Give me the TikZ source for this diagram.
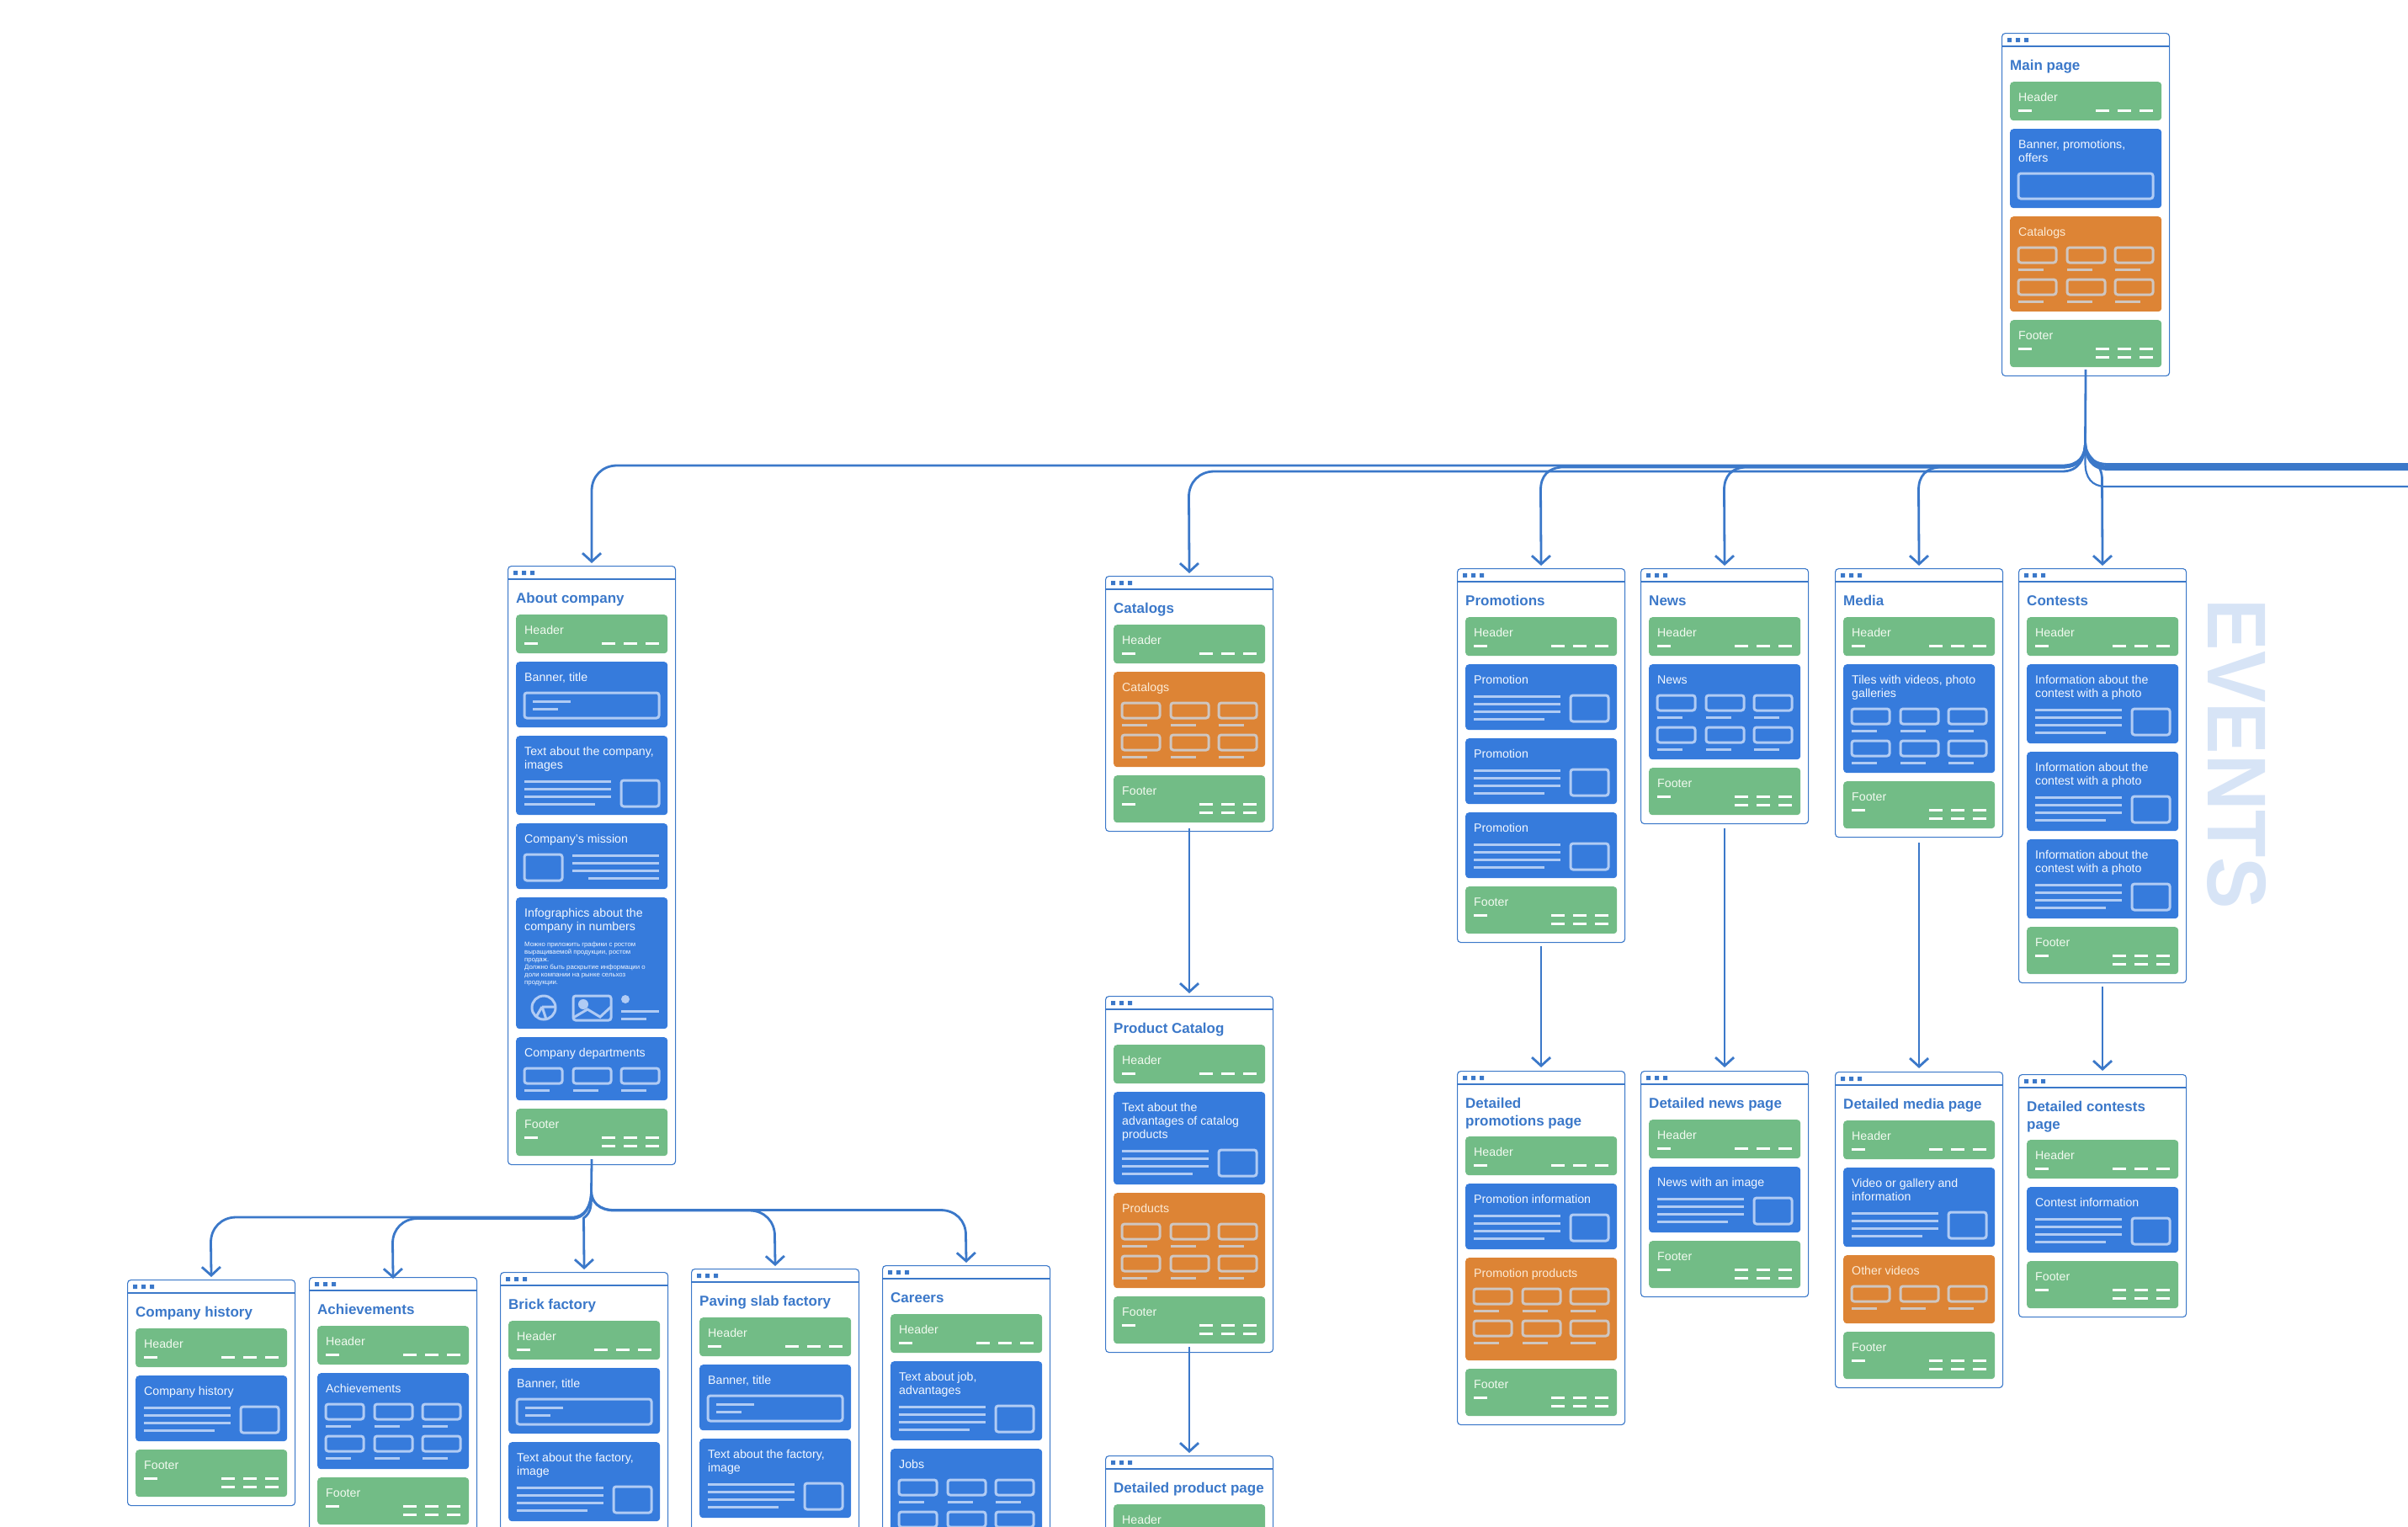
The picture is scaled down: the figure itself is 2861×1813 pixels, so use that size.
\documentclass[tikz,border=0pt]{standalone}
\usepackage{fontspec}
\setmainfont{Liberation Sans}
\usetikzlibrary{arrows.meta,calc}
\definecolor{gr}{HTML}{72BC86}
\definecolor{bl}{HTML}{367BDC}
\definecolor{or}{HTML}{DD8435}
\definecolor{inkbl}{HTML}{B0CBF4}
\definecolor{inkor}{HTML}{CFC6C0}
\definecolor{txtgr}{HTML}{F2FAF0}
\definecolor{txtbl}{HTML}{F2F7FF}
\definecolor{txtor}{HTML}{FCEBD6}
\definecolor{edge}{HTML}{3B78C9}
\definecolor{wm}{HTML}{D7E4F6}
\newcount\PX \newcount\PY \newcount\PT \newcount\BN
\def\inkc{inkbl}
\tikzset{
  pageframe/.style={draw=edge,line width=1.1pt,rounded corners=4pt,minimum width=199pt,inner sep=0pt,anchor=north west},
  pagebar/.style={draw=edge,line width=1.1pt},
  blockbox/.style={rounded corners=4pt,minimum width=180pt,inner sep=0pt,anchor=north west},
  blocktxt/.style={inner sep=0pt,anchor=north west,align=left,font=\fontsize{14.2}{16}\selectfont},
  smalltxt/.style={inner sep=0pt,anchor=north west,align=left,text=txtbl,font=\fontsize{7.8}{9}\selectfont},
  pagetitle/.style={inner sep=0pt,anchor=north west,align=left,text=edge,font=\fontsize{17}{21.5}\selectfont\bfseries},
  inkline/.style={line width=3pt,draw=\inkc},
  inkround/.style={line width=3pt,draw=\inkc,rounded corners=3pt},
  dashline/.style={line width=3pt,white},
  conn/.style={draw=edge,line width=2.8pt},
  arrowconn/.style={conn,-{Straight Barb[length=10pt,width=22pt,line width=2.8pt]}},
}
% one block of a page: colour, height, title
\newcommand\Blk[3]{\global\advance\BN by 1
  \node[blockbox,fill=#1,minimum height=#2pt] (b\the\BN) at (0,0) {};
  \node[blocktxt,text=txt#1] (t\the\BN) at (10,12) {\rule{0pt}{11pt}#3};}
\newcommand\PgBegin[4]{% x, top, lines of title, title
  \PX=#1 \PT=#2 \PY=#2 \advance\PY by 58
  \ifnum#3=2 \advance\PY by 20 \fi
  \global\advance\BN by 1
  \node[pagetitle] (pt\the\BN) at (#1+10,#2+31) {\rule{0pt}{13pt}#4};}
\newcommand\PgEnd[2][0]{% extra height, name
  \advance\PY by #1
  \begin{scope}[shift={(\the\PX,\the\PT)}]
    \pgfmathsetmacro\PgH{\the\PY-\the\PT}
    \node[pageframe,minimum height=\PgH pt] (#2) at (0,0) {};
    \draw[pagebar] (0,16) -- (199,16);
    \fill[edge] (7,6) rectangle (12,11) (17,6) rectangle (22,11) (27,6) rectangle (32,11);
  \end{scope}}
\newcommand\InScope[1]{\begin{scope}[shift={(\the\numexpr\PX+10\relax,\the\PY)}]#1\end{scope}}
\newcommand\Dashes[1]{\draw[dashline] (102,#1)--(118,#1) (128,#1)--(144,#1) (154,#1)--(170,#1);}
\newcommand\Hdr{\InScope{\Blk{gr}{46}{Header}\draw[dashline] (10,34)--(26,34);\Dashes{34}}\advance\PY by 56 }
\newcommand\Ftr{\InScope{\Blk{gr}{56}{Footer}\draw[dashline] (10,34)--(26,34);\Dashes{34}\Dashes{44}}\advance\PY by 66 }
\newcommand\Ban[1]{\def\inkc{inkbl}\InScope{\Blk{bl}{78}{#1}
  \draw[inkround] (10,37) rectangle (170,67);
  \draw[inkline] (20,47)--(65,47) (20,56)--(50,56);}\advance\PY by 88 }
\newcommand\BanWide[1]{\def\inkc{inkbl}\InScope{\Blk{bl}{94}{#1}
  \draw[inkround] (10,53) rectangle (170,83);}\advance\PY by 104 }
\newcommand\Txt[2]{% title, lines of title
  \def\inkc{inkbl}\pgfmathtruncatemacro\Off{16*(#2-1)}\pgfmathtruncatemacro\Ht{78+\Off}
  \InScope{\Blk{bl}{\Ht}{#1}
  \draw[inkline] (10,38+\Off)--(113,38+\Off) (10,47+\Off)--(113,47+\Off) (10,56+\Off)--(113,56+\Off) (10,65+\Off)--(94,65+\Off);
  \draw[inkround] (125,37+\Off) rectangle (170,68+\Off);}
  \advance\PY by \Ht \advance\PY by 10 }
\newcommand\Mission[1]{\def\inkc{inkbl}\InScope{\Blk{bl}{78}{#1}
  \draw[inkline] (67,38)--(170,38) (67,47)--(170,47) (67,56)--(170,56) (86,65)--(170,65);
  \draw[inkround] (10,37) rectangle (55,68);}\advance\PY by 88 }
\newcommand\Cell[2]{\draw[inkround] (#1,#2) rectangle (#1+45,#2+18);\draw[inkline] (#1,#2+26)--(#1+30,#2+26);}
\newcommand\Grid[5]{% colour, title, lines of title, rows, height
  \def\inkc{ink#1}\pgfmathtruncatemacro\Off{16*(#3-1)}
  \InScope{\Blk{#1}{#5}{#2}
  \Cell{10}{37+\Off}\Cell{68}{37+\Off}\Cell{125}{37+\Off}
  \ifnum#4=2 \Cell{10}{75+\Off}\Cell{68}{75+\Off}\Cell{125}{75+\Off}\fi}
  \advance\PY by #5 \advance\PY by 10 }
\newcommand\Info[2]{\def\inkc{inkbl}\InScope{\Blk{bl}{156}{#1}
  \global\advance\BN by 1
  \node[smalltxt] (s\the\BN) at (10,51) {\rule{0pt}{7pt}#2};
  \draw[inkline] (33,131) circle (14);
  \draw[inkline] (31,130)--(47,130) (31,130)--(24,142) (31,130)--(36,145);
  \draw[inkround] (68,117) rectangle (113,146);
  \fill[\inkc] (80,127) circle (6) (130,121) circle (5);
  \draw[inkline] (68,143)--(85,133)--(100,142)--(113,130);
  \draw[inkline] (125,135)--(170,135) (125,144)--(155,144);}\advance\PY by 166 }
\begin{document}
\begin{tikzpicture}[x=1pt,y=-1pt]
\useasboundingbox (0,0) rectangle (2861,1813);
\clip (0,0) rectangle (2861,1813);

\node[inner sep=0pt,rotate=-90,text=wm,font=\fontsize{99}{99}\selectfont\bfseries] (events) at (2657.5,896) {\scalebox{.93}[1]{EVENTS}};

\PgBegin{2378}{39}{1}{Main page}\Hdr\BanWide{Banner, promotions,\\offers}\Grid{or}{Catalogs}{1}{2}{113}\Ftr\PgEnd{mainp}
\PgBegin{603}{672}{1}{About company}\Hdr\Ban{Banner, title}\Txt{Text about the company,\\images}{2}\Mission{Company's mission}
\Info{Infographics about the\\company in numbers}{Можно приложить графики с ростом\\выращиваемой продукции, ростом\\продаж.\\Должно быть раскрытие информации о\\доли компании на рынке сельхоз\\продукции.}
\Grid{bl}{Company departments}{1}{1}{75}\Ftr\PgEnd{about}
\PgBegin{1313}{684}{1}{Catalogs}\Hdr\Grid{or}{Catalogs}{1}{2}{113}\Ftr\PgEnd{catalogs}
\PgBegin{1313}{1183}{1}{Product Catalog}\Hdr\Txt{Text about the\\advantages of catalog\\products}{3}\Grid{or}{Products}{1}{2}{113}\Ftr\PgEnd{product}
\PgBegin{1313}{1729}{1}{Detailed product page}\Hdr\PgEnd[60]{detprod}
\PgBegin{1731}{675}{1}{Promotions}\Hdr\Txt{Promotion}{1}\Txt{Promotion}{1}\Txt{Promotion}{1}\Ftr\PgEnd{promos}
\PgBegin{1949}{675}{1}{News}\Hdr\Grid{bl}{News}{1}{2}{113}\Ftr\PgEnd{news}
\PgBegin{2180}{675}{1}{Media}\Hdr\Grid{bl}{Tiles with videos, photo\\galleries}{2}{2}{129}\Ftr\PgEnd{media}
\PgBegin{2398}{675}{1}{Contests}\Hdr\Txt{Information about the\\contest with a photo}{2}\Txt{Information about the\\contest with a photo}{2}\Txt{Information about the\\contest with a photo}{2}\Ftr\PgEnd{contests}
\PgBegin{1731}{1272}{2}{Detailed\\promotions page}\Hdr\Txt{Promotion information}{1}\Grid{or}{Promotion products}{1}{2}{122}\Ftr\PgEnd{detpromo}
\PgBegin{1949}{1272}{1}{Detailed news page}\Hdr\Txt{News with an image}{1}\Ftr\PgEnd{detnews}
\PgBegin{2180}{1273}{1}{Detailed media page}\Hdr\Txt{Video or gallery and\\information}{2}\Grid{or}{Other videos}{1}{1}{81}\Ftr\PgEnd{detmedia}
\PgBegin{2398}{1276}{2}{Detailed contests\\page}\Hdr\Txt{Contest information}{1}\Ftr\PgEnd{detcontests}
\PgBegin{151}{1520}{1}{Company history}\Hdr\Txt{Company history}{1}\Ftr\PgEnd{history}
\PgBegin{367}{1517}{1}{Achievements}\Hdr\Grid{bl}{Achievements}{1}{2}{114}\Ftr\PgEnd{achieve}
\PgBegin{594}{1511}{1}{Brick factory}\Hdr\Ban{Banner, title}\Txt{Text about the factory,\\image}{2}\PgEnd[30]{brick}
\PgBegin{821}{1507}{1}{Paving slab factory}\Hdr\Ban{Banner, title}\Txt{Text about the factory,\\image}{2}\PgEnd[30]{paving}
\PgBegin{1048}{1503}{1}{Careers}\Hdr\Txt{Text about job,\\advantages}{2}\Grid{bl}{Jobs}{1}{2}{113}\PgEnd{careers}

% connectors from the main page
\coordinate (hub) at (2477.5,525);
\coordinate (r1) at (2861,551.5);
\coordinate (r2) at (2861,554);
\coordinate (r3) at (2861,556.5);
\coordinate (r4) at (2861,557.5);
\coordinate (r5) at (2861,578);
\draw[conn] ($(mainp.south)+(0,-8)$) -- (hub);
\draw[arrowconn] (hub) .. controls (2477.5,542) and (2470,553) .. (2450,553) -- (733,553) .. controls (715.5,553) and (703,566) .. (703,583) -- ($(about.north)+(0,-3)$);
\draw[arrowconn] (hub) .. controls (2477.5,545) and (2470,560) .. (2450,560) -- (1442.5,560) .. controls (1425,560) and (1412.5,573) .. (1412.5,590) -- ($(catalogs.north)+(0,-3)$);
\draw[arrowconn] (hub) .. controls (2477.5,544) and (2470,555) .. (2450,555) -- (1855,555) .. controls (1840,556) and (1830.5,565) .. (1830.5,582) -- ($(promos.north)+(0,-3)$);
\draw[arrowconn] (hub) .. controls (2477.5,544) and (2470,555) .. (2450,555) -- (2073,555) .. controls (2058,556) and (2048.5,565) .. (2048.5,582) -- ($(news.north)+(0,-3)$);
\draw[arrowconn] (hub) .. controls (2477.5,544) and (2470,555) .. (2450,555) -- (2304,555) .. controls (2289,556) and (2279.5,565) .. (2279.5,582) -- ($(media.north)+(0,-3)$);
\draw[arrowconn] (hub) .. controls (2478,548) and (2497.5,546) .. (2497.5,570) -- ($(contests.north)+(0,-3)$);
\draw[conn] (hub) .. controls (2477.5,540) and (2485,551.5) .. (2505,551.5) -- (r1);
\draw[conn] (hub) .. controls (2477.5,542) and (2485,554) .. (2505,554) -- (r2);
\draw[conn] (hub) .. controls (2477.5,544) and (2485,556.5) .. (2505,556.5) -- (r3);
\draw[conn] (hub) .. controls (2477.5,545) and (2485,557.5) .. (2505,557.5) -- (r4);
\draw[conn,line width=2.2pt] (hub) -- (2477.5,550) .. controls (2477.5,567) and (2485,578) .. (2502,578) -- (r5);

% vertical connectors
\draw[arrowconn] ($(catalogs.south)+(0,-4)$) -- ($(product.north)+(0,-3)$);
\draw[arrowconn] ($(product.south)+(0,-7)$) -- ($(detprod.north)+(0,-3)$);
\draw[arrowconn] ($(promos.south)+(0,4)$) -- ($(detpromo.north)+(0,-4)$);
\draw[arrowconn] ($(news.south)+(0,5)$) -- ($(detnews.north)+(0,-4)$);
\draw[arrowconn] ($(media.south)+(0,6)$) -- ($(detmedia.north)+(0,-4)$);
\draw[arrowconn] ($(contests.south)+(0,4)$) -- ($(detcontests.north)+(0,-4)$);

% connectors from the about page
\coordinate (hubb) at (702.5,1415);
\draw[conn] ($(about.south)+(0,-7)$) -- (hubb);
\draw[arrowconn] (hubb) .. controls (702.5,1432) and (695,1446) .. (680,1446) -- (280.5,1446) .. controls (263,1446) and (250.5,1459) .. (250.5,1476) -- ($(history.north)+(0,-3)$);
\draw[arrowconn] (hubb) .. controls (702.5,1433) and (695,1447.5) .. (680,1447.5) -- (496.5,1447.5) .. controls (479,1447.5) and (466.5,1460) .. (466.5,1477) -- ($(achieve.north)+(0,2)$);
\draw[arrowconn] (hubb) .. controls (702.5,1432) and (703,1440) .. (693.5,1447) -- ($(brick.north)+(0,-3)$);
\draw[arrowconn] (hubb) .. controls (702.5,1428) and (712,1438) .. (730,1438) -- (890.5,1438) .. controls (908,1438) and (920.5,1451) .. (920.5,1468) -- ($(paving.north)+(0,-3)$);
\draw[arrowconn] (hubb) .. controls (702.5,1428) and (712,1437.5) .. (730,1437.5) -- (1117.5,1437.5) .. controls (1135,1437.5) and (1147.5,1450) .. (1147.5,1467) -- ($(careers.north)+(0,-3)$);
\end{tikzpicture}
\end{document}
